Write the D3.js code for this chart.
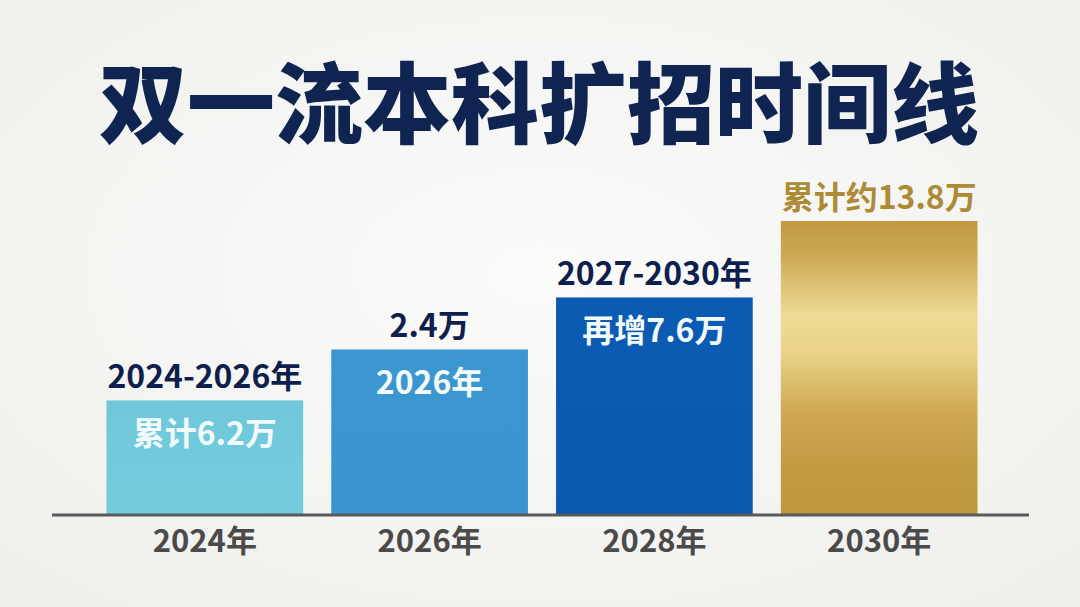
<!DOCTYPE html>
<html>
<head>
<meta charset="utf-8">
<script src="https://cdn.jsdelivr.net/npm/d3@7"></script>
<style>
  html, body { margin: 0; padding: 0; background: #f4f4f2; }
  svg { display: block; font-family: "Noto Sans CJK SC", "Noto Sans", sans-serif; }
</style>
</head>
<body>
<div id="chart"></div>
<script>
// chart data
let title_text = "双一流本科扩招时间线";
let years = ["2024年", "2026年", "2028年", "2030年"];
// bar heights (in 万, estimated so the last bar = 13.8)
let bar_values = [5.35, 7.75, 10.2, 13.8];
let top_labels = ["2024-2026年", "2.4万", "2027-2030年", "累计约13.8万"];
let inner_labels = ["累计6.2万", "2026年", "再增7.6万", ""];
let bar_fills = ["url(#g_teal)", "url(#g_blue)", "url(#g_navy)", "url(#g_gold)"];
let top_colors = ["#0f1f4d", "#0f1f4d", "#0f1f4d", "#ad8a35"];

let width = 1080,
  height = 607;

let svg = d3.select("#chart").append("svg")
  .attr("width", width)
  .attr("height", height);

let defs = svg.append("defs");

// soft background glow
let bg = defs.append("radialGradient").attr("id", "g_bg")
  .attr("cx", "50%").attr("cy", "45%").attr("r", "70%");
bg.append("stop").attr("offset", "0%").attr("stop-color", "#fbfbfa");
bg.append("stop").attr("offset", "100%").attr("stop-color", "#efefec");

function vGrad(id, stops) {
  let gr = defs.append("linearGradient").attr("id", id)
    .attr("x1", 0).attr("y1", 0).attr("x2", 0).attr("y2", 1);
  stops.forEach(s => gr.append("stop").attr("offset", s[0]).attr("stop-color", s[1]));
}
vGrad("g_teal", [["0%", "#6ec8da"], ["100%", "#74cddd"]]);
vGrad("g_blue", [["0%", "#3c97d0"], ["100%", "#3a95cf"]]);
vGrad("g_navy", [["0%", "#0a5bb1"], ["100%", "#095aaf"]]);
vGrad("g_gold", [["0%", "#c19a42"], ["12%", "#cda955"], ["32%", "#efdb94"], ["45%", "#e9d388"],
  ["65%", "#cfa952"], ["85%", "#c19a42"], ["100%", "#bf973f"]]);

svg.append("rect").attr("width", width).attr("height", height).attr("fill", "url(#g_bg)");

// title
svg.append("text")
  .attr("x", 539)
  .attr("y", 136)
  .attr("text-anchor", "middle")
  .attr("font-size", 88)
  .attr("font-weight", 900)
  .attr("fill", "#0f2451")
  .text(title_text);

let baseline = 514;

let x = d3.scaleBand()
  .domain(years)
  .range([93, 991])
  .paddingInner(0.125)
  .paddingOuter(0.06);

let y = d3.scaleLinear()
  .domain([0, 13.8])
  .range([baseline, 221]);

let g = svg.append("g");

g.selectAll("rect.bar")
  .data(years)
  .join("rect")
  .attr("class", "bar")
  .attr("x", d => x(d))
  .attr("y", (d, i) => y(bar_values[i]))
  .attr("width", x.bandwidth())
  .attr("height", (d, i) => baseline - y(bar_values[i]))
  .attr("fill", (d, i) => bar_fills[i]);

// labels above bars
g.selectAll("text.top")
  .data(years)
  .join("text")
  .attr("class", "top")
  .attr("x", d => x(d) + x.bandwidth() / 2)
  .attr("y", (d, i) => y(bar_values[i]) - 12)
  .attr("text-anchor", "middle")
  .attr("font-size", 32)
  .attr("font-weight", 700)
  .attr("fill", (d, i) => top_colors[i])
  .text((d, i) => top_labels[i]);

// labels inside bars
g.selectAll("text.inner")
  .data(years)
  .join("text")
  .attr("class", "inner")
  .attr("x", d => x(d) + x.bandwidth() / 2)
  .attr("y", (d, i) => y(bar_values[i]) + 45)
  .attr("text-anchor", "middle")
  .attr("font-size", 32)
  .attr("font-weight", 700)
  .attr("fill", "#f2fafc")
  .text((d, i) => inner_labels[i]);

// x axis
let xAxis = svg.append("g")
  .attr("transform", "translate(0," + baseline + ")")
  .call(d3.axisBottom(x).tickSize(0).tickPadding(16));
xAxis.select(".domain").remove();
xAxis.append("line")
  .attr("x1", 52).attr("x2", 1029)
  .attr("y1", 1).attr("y2", 1)
  .attr("stroke", "#58595b")
  .attr("stroke-width", 3);
xAxis.selectAll(".tick text")
  .attr("font-family", "Noto Sans CJK SC, sans-serif")
  .attr("font-size", 31)
  .attr("font-weight", 700)
  .attr("fill", "#4a4a4a");
</script>
</body>
</html>
